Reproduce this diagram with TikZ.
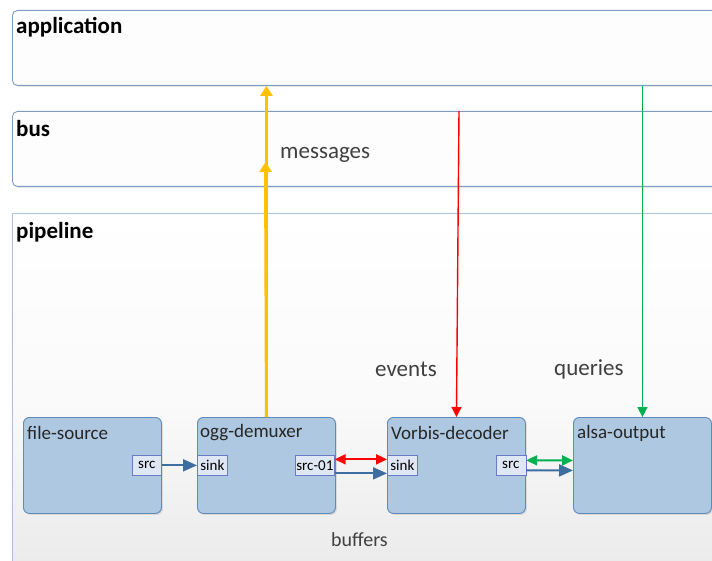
\documentclass[tikz,border=0pt]{standalone}
\usepackage{fontspec}
\setmainfont{Carlito}
\usetikzlibrary{arrows.meta,shadows,calc}

\definecolor{layerline}{RGB}{125,158,192}
\definecolor{layerfill}{RGB}{253,253,253}
\definecolor{pipeline}{RGB}{170,193,217}
\definecolor{elemfill}{RGB}{173,200,224}
\definecolor{elemline}{RGB}{96,138,184}
\definecolor{padfill}{RGB}{222,231,243}
\definecolor{padline}{RGB}{104,122,200}
\definecolor{bufblue}{RGB}{60,110,160}
\definecolor{msgyellow}{RGB}{255,192,0}
\definecolor{evred}{RGB}{255,0,0}
\definecolor{qgreen}{RGB}{0,176,80}
\definecolor{softtext}{RGB}{64,64,64}

\tikzset{
  layerbox/.style={draw=layerline, line width=0.9pt, fill=layerfill, rounded corners=5pt,
    anchor=north west, inner sep=0pt,
    drop shadow={opacity=0.18, shadow xshift=1pt, shadow yshift=-1.5pt}},
  layertitle/.style={anchor=west, inner sep=0pt, font=\fontsize{23}{26}\selectfont\bfseries},
  elembox/.style={draw=elemline, line width=0.9pt, fill=elemfill, rounded corners=6pt,
    anchor=north west, minimum width=138pt, minimum height=96pt, inner sep=0pt,
    drop shadow={opacity=0.2, shadow xshift=1.5pt, shadow yshift=-1.5pt}},
  elemtitle/.style={anchor=west, inner sep=0pt, text=black!85, font=\fontsize{19}{22}\selectfont},
  padbox/.style={draw=padline, line width=0.7pt, fill=padfill, anchor=north west,
    minimum height=20pt, inner sep=0pt, text=black, font=\fontsize{15}{17}\selectfont},
  flowlabel/.style={inner sep=0pt, text=softtext, font=\fontsize{23}{26}\selectfont},
  bufflow/.style={draw=bufblue, line width=2pt, -{Triangle[length=14pt,width=12pt]}},
  evflow/.style={draw=evred, line width=2pt, {Triangle[length=11pt,width=10pt]}-{Triangle[length=11pt,width=10pt]}},
  qflow/.style={draw=qgreen, line width=2pt, {Triangle[length=11pt,width=10pt]}-{Triangle[length=11pt,width=10pt]}},
  msgflow/.style={draw=msgyellow, line width=3pt, -{Triangle[length=10pt,width=12pt]}},
  evline/.style={draw=evred, line width=1.4pt, -{Triangle[length=10pt,width=10pt]}},
  qline/.style={draw=qgreen, line width=1.4pt, -{Triangle[length=10pt,width=10pt]}},
}

\begin{document}
\begin{tikzpicture}[x=1pt,y=-1pt]
\useasboundingbox (0,0) rectangle (712,561);
\clip (0,0) rectangle (712,561);
\fill[white] (0,0) rectangle (712,561);

% layers
\node[layerbox, minimum width=740pt, minimum height=75pt] (app) at (12,10) {};
\node[layertitle] (apptitle) at (16,27) {application};
\node[layerbox, minimum width=740pt, minimum height=75pt] (bus) at (12,111) {};
\node[layertitle] (bustitle) at (16,129) {bus};
\node[draw=pipeline, line width=0.9pt, anchor=north west, inner sep=0pt,
      minimum width=740pt, minimum height=380pt,
      top color=white, bottom color=black!9, middle color=white!98!black] (pipe) at (12,213) {};
\node[layertitle] (pipetitle) at (16,232) {pipeline};

% elements
\node[elembox] (fs) at (23,417) {};
\node[elembox] (ogg) at (197,417) {};
\node[elembox] (vorbis) at (387,417) {};
\node[elembox] (alsa) at (573,417) {};
\node[elemtitle] (fsname) at (27,433) {file-source};
\node[elemtitle] (oggname) at (200,433) {ogg-demuxer};
\node[elemtitle] (vorbisname) at (391,433) {Vorbis-decoder};
\node[elemtitle] (alsaname) at (577,433) {alsa-output};

% pads
\node[padbox, minimum width=29pt] (fssrc) at (132,455) {src};
\node[padbox, minimum width=30pt] (oggsink) at (197,455) {sink};
\node[padbox, minimum width=39pt] (oggsrc) at (295,455) {src-01};
\node[padbox, minimum width=30pt] (vsink) at (387,455) {sink};
\node[padbox, minimum width=30pt] (vsrc) at (495.5,455) {src};

% data flow between pads
\draw[bufflow] (fssrc.east) -- (oggsink.west);
\draw[evflow] ([yshift=6pt]oggsrc.east) -- ([yshift=6pt]vsink.west);
\draw[bufflow] ([yshift=-8pt]oggsrc.east) -- ([yshift=-8pt]vsink.west);
\draw[qflow] ([yshift=5pt]vsrc.east) -- ([yshift=5pt]alsa.west);
\draw[bufflow] ([yshift=-5pt]vsrc.east) -- ([yshift=-5pt]alsa.west);

% messages, events and queries
\coordinate (msgmid) at (265.5,162);
\draw[msgflow] (ogg.north) -- (ogg.north |- app.south);
\draw[msgflow] (ogg.north) -- (msgmid);
\coordinate (evtop) at (459,111);
\draw[evline] (evtop) -- (vorbis.north);
\draw[qline] (alsa.north |- app.south) -- (alsa.north);

% flow labels
\node[flowlabel, anchor=west] (msglbl) at (280,155) {messages};
\node[flowlabel, anchor=west] (evlbl) at (375,369) {events};
\node[flowlabel, anchor=west] (qlbl) at (554,369) {queries};
\node[flowlabel, anchor=center, font=\fontsize{20}{23}\selectfont] (buflbl) at (359.5,540) {buffers};
\end{tikzpicture}
\end{document}
